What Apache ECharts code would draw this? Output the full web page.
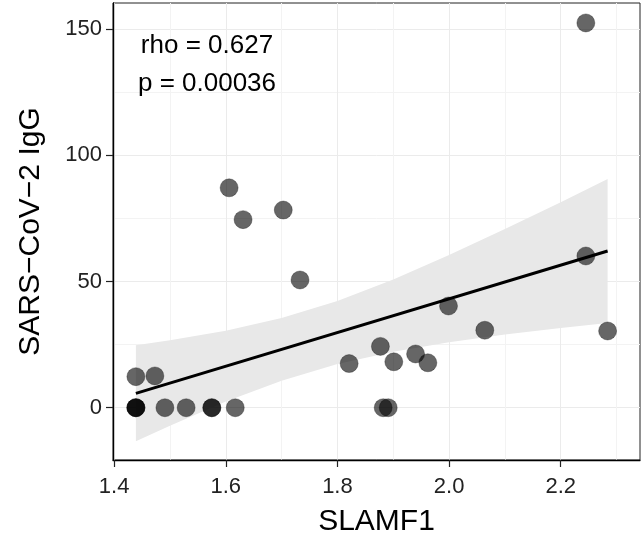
<!DOCTYPE html>
<html><head><meta charset="utf-8">
<script src="https://cdn.jsdelivr.net/npm/echarts@6/dist/echarts.min.js"></script>
<style>html,body{margin:0;padding:0;background:#fff}#c{width:643px;height:542px}</style>
</head><body><div id="c"></div>
<script>
// Data
const slamf1 = [1.439, 1.439, 1.439, 1.439, 1.473, 1.491, 1.529, 1.575, 1.575, 1.617,
                1.606, 1.631, 1.703, 1.733, 1.821, 1.877, 1.882, 1.891, 1.901, 1.940,
                1.962, 1.999, 2.064, 2.245, 2.245, 2.284];
const igg    = [0, 0, 0, 12.3, 12.6, 0, 0, 0, 0, 0,
                87.1, 74.5, 78.3, 50.6, 17.5, 24.3, 0, 0, 18.2, 21.3,
                17.8, 40.3, 30.7, 152.4, 60.1, 30.4];
const fitX = [1.439, 2.284];
const fitY = [5.7, 62.1];
const bandX     = [1.439, 1.5, 1.6, 1.7, 1.8, 1.9, 2.0, 2.1, 2.2, 2.284];
const bandLower = [-13.3, -7.1, 2.5, 10.7, 17.3, 22.2, 25.9, 29.0, 31.6, 33.6];
const bandUpper = [24.7, 26.7, 30.5, 35.5, 42.3, 50.8, 60.5, 70.8, 81.4, 90.6];
const xTicks = [1.4, 1.6, 1.8, 2.0, 2.2];
const xMinor = [1.5, 1.7, 1.9, 2.1, 2.3];
const yTicks = [0, 50, 100, 150];
const yMinor = [25, 75, 125];
const statLines = ['rho = 0.627', 'p = 0.00036'];

const FONT = '"Liberation Sans", Arial, Helvetica, sans-serif';
const X_MIN = 1.398, X_MAX = 2.342, Y_MIN = -20.7, Y_MAX = 160.3;

const chart = echarts.init(document.getElementById('c'), null, {renderer: 'canvas'});
const points = slamf1.map((x, i) => [x, igg[i]]);
const fit = fitX.map((x, i) => [x, fitY[i]]);
const band = bandX.map((x, i) => [x, bandLower[i], bandUpper[i]]);

chart.setOption({
  animation: false,
  backgroundColor: '#fff',
  grid: {left: 113, right: 3, top: 3, bottom: 81, show: true, borderColor: '#222', borderWidth: 1, backgroundColor: 'transparent'},
  xAxis: [{
    type: 'value', min: X_MIN, max: X_MAX, position: 'bottom',
    name: 'SLAMF1', nameLocation: 'middle', nameGap: 47,
    nameTextStyle: {fontSize: 30, color: '#000', fontFamily: FONT},
    axisLine: {show: true, onZero: false, lineStyle: {color: '#000', width: 1.3}},
    axisTick: {show: true, length: 7, customValues: xTicks, lineStyle: {color: '#222', width: 1.2}},
    axisLabel: {customValues: xTicks, formatter: v => v.toFixed(1), fontSize: 22, color: '#222', fontFamily: FONT, margin: 16},
    splitLine: {show: true, lineStyle: {color: '#ebebeb', width: 1}}
  }, {
    type: 'value', min: X_MIN, max: X_MAX, position: 'top',
    axisLine: {show: false}, axisTick: {show: false, customValues: xMinor},
    axisLabel: {show: false, customValues: xMinor},
    splitLine: {show: true, lineStyle: {color: '#f3f3f3', width: 1}}
  }],
  yAxis: [{
    type: 'value', min: Y_MIN, max: Y_MAX, position: 'left',
    name: 'SARS\u2212CoV\u22122 IgG', nameLocation: 'middle', nameGap: 67, nameRotate: 90,
    nameTextStyle: {fontSize: 30, color: '#000', fontFamily: FONT},
    axisLine: {show: true, onZero: false, lineStyle: {color: '#000', width: 1.3}},
    axisTick: {show: true, length: 7, customValues: yTicks, lineStyle: {color: '#222', width: 1.2}},
    axisLabel: {customValues: yTicks, fontSize: 22, color: '#222', fontFamily: FONT, margin: 11},
    splitLine: {show: true, lineStyle: {color: '#ebebeb', width: 1}}
  }, {
    type: 'value', min: Y_MIN, max: Y_MAX, position: 'right',
    axisLine: {show: false}, axisTick: {show: false, customValues: yMinor},
    axisLabel: {show: false, customValues: yMinor},
    splitLine: {show: true, lineStyle: {color: '#f3f3f3', width: 1}}
  }],
  graphic: statLines.map((t, i) => ({
    type: 'text', z: 100,
    style: {text: t, x: 207, y: 46 + i * 38, align: 'center', verticalAlign: 'middle',
            font: '26px ' + FONT, fill: '#000'}
  })),
  series: [{
    type: 'custom', xAxisIndex: 0, yAxisIndex: 0, clip: true, z: 1,
    data: band,
    encode: {x: 0, y: [1, 2]},
    renderItem: function (params, api) {
      if (params.dataIndex !== 0) return null;
      const pts = [];
      for (let i = 0; i < band.length; i++) pts.push(api.coord([band[i][0], band[i][2]]));
      for (let i = band.length - 1; i >= 0; i--) pts.push(api.coord([band[i][0], band[i][1]]));
      return {type: 'polygon', shape: {points: pts}, style: {fill: '#e8e8e8'}};
    }
  }, {
    type: 'scatter', xAxisIndex: 0, yAxisIndex: 0, z: 2,
    data: points, symbolSize: 18,
    itemStyle: {color: 'rgba(0,0,0,0.6)', borderColor: 'rgba(0,0,0,0.3)', borderWidth: 1, opacity: 1}
  }, {
    type: 'line', xAxisIndex: 0, yAxisIndex: 0, z: 3,
    data: fit, symbol: 'none',
    lineStyle: {color: '#000', width: 3}
  }]
});
</script>
</body></html>
